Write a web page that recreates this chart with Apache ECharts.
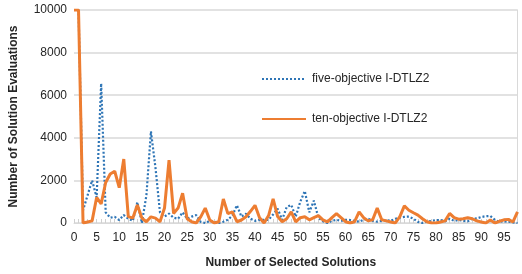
<!DOCTYPE html>
<html>
<head>
<meta charset="utf-8">
<script src="https://cdn.jsdelivr.net/npm/echarts@6/dist/echarts.min.js"></script>
<style>
html,body{margin:0;padding:0;background:#fff;}
#c{width:522px;height:274px;}
</style>
</head>
<body>
<div id="c"></div>
<script>
// categories: number of selected solutions 0..98
const categories = [];
for (let i = 0; i < 99; i++) categories.push(String(i));

const seriesNames = ["five-objective I-DTLZ2", "ten-objective I-DTLZ2"];

// five-objective I-DTLZ2 (dotted blue)
const fiveObjective = [
  10000, 10000, 600, 1300, 2000, 1200, 6550, 500, 250, 290,
  140, 370, 200, 100, 980, 0, 1300, 4300, 2600, 500,
  300, 440, 250, 200, 500, 200, 300, 370, 50, 0,
  100, 60, 0, 60, 150, 350, 830, 300, 440, 200,
  100, 150, 150, 150, 400, 670, 150, 750, 850, 300,
  1000, 1500, 500, 1050, 250, 80, 0, 100, 150, 100,
  150, 140, 100, 60, 150, 200, 100, 60, 100, 140,
  100, 200, 250, 290, 300, 200, 50, 0, 60, 100,
  140, 140, 80, 200, 100, 140, 100, 80, 200, 215,
  280, 320, 330, 150, 60, 80, 60, 30, 0
];

// ten-objective I-DTLZ2 (solid orange)
const tenObjective = [
  10000, 10000, 0, 50, 100, 1200, 900, 1900, 2300, 2430,
  1660, 3000, 300, 230, 850, 230, 60, 290, 230, 60,
  700, 2950, 450, 700, 1400, 200, 60, 0, 290, 700,
  140, 0, 60, 1130, 440, 520, 60, 140, 290, 550,
  830, 250, 0, 350, 1130, 300, 60, 200, 520, 50,
  250, 290, 150, 250, 350, 150, 50, 250, 440, 250,
  60, 0, 60, 520, 250, 100, 150, 700, 150, 100,
  50, 0, 300, 800, 600, 480, 370, 200, 60, 0,
  0, 50, 100, 450, 250, 180, 200, 250, 200, 100,
  50, 0, 140, 0, 80, 150, 170, 50, 520
];

const yTicks = { min: 0, max: 10000, interval: 2000 };

const font = "Liberation Sans, Arial, sans-serif";
const chart = echarts.init(document.getElementById('c'), null, { renderer: 'canvas' });
chart.setOption({
  animation: false,
  backgroundColor: '#ffffff',
  grid: { left: 72.5, right: 4.5, top: 10, bottom: 46, containLabel: false },
  legend: {
    orient: 'vertical',
    left: 256,
    top: 68,
    itemWidth: 44,
    itemHeight: 14,
    itemGap: 28,
    itemStyle: { opacity: 0 },
    textStyle: { fontFamily: font, fontSize: 12, color: '#262626', padding: [0, 0, 0, 1] },
    data: seriesNames
  },
  xAxis: {
    type: 'category',
    data: categories,
    boundaryGap: false,
    name: 'Number of Selected Solutions',
    nameLocation: 'middle',
    nameGap: 34,
    nameTextStyle: { fontFamily: font, fontSize: 12, fontWeight: 'bold', color: '#262626', padding: [0, 10, 0, 0] },
    axisLine: { show: true, lineStyle: { color: '#d9d9d9', width: 1 } },
    axisTick: { show: true, inside: true, length: 4, interval: 0, alignWithLabel: true, lineStyle: { color: '#d0d0d0' } },
    axisLabel: { interval: 4, margin: 9, fontFamily: font, fontSize: 12, color: '#262626' },
    splitLine: { show: false }
  },
  yAxis: [{
    type: 'value',
    min: yTicks.min,
    max: yTicks.max,
    interval: yTicks.interval,
    name: 'Number of Solution Evaluations',
    nameLocation: 'middle',
    nameGap: 54,
    nameTextStyle: { fontFamily: font, fontSize: 12, fontWeight: 'bold', color: '#262626' },
    axisLine: { show: false },
    axisTick: { show: false },
    axisLabel: { margin: 7, fontFamily: font, fontSize: 12, color: '#262626', formatter: (v) => String(v) },
    splitLine: { show: true, lineStyle: { color: '#d9d9d9', width: 1.5 } }
  }, {
    type: 'value',
    position: 'right',
    min: yTicks.min,
    max: yTicks.max,
    interval: yTicks.interval,
    axisLine: { show: true, lineStyle: { color: '#d9d9d9', width: 1 } },
    axisTick: { show: false },
    axisLabel: { show: false },
    splitLine: { show: false }
  }],
  series: [{
    name: seriesNames[0],
    type: 'line',
    data: fiveObjective,
    symbol: 'none',
    lineStyle: { color: '#2E75B6', width: 2.2, type: [2, 2] },
    itemStyle: { color: '#2E75B6' },
    z: 2
  }, {
    name: seriesNames[1],
    type: 'line',
    data: tenObjective,
    symbol: 'none',
    lineStyle: { color: '#ED7D31', width: 3 },
    itemStyle: { color: '#ED7D31' },
    z: 3
  }]
});
</script>
</body>
</html>
